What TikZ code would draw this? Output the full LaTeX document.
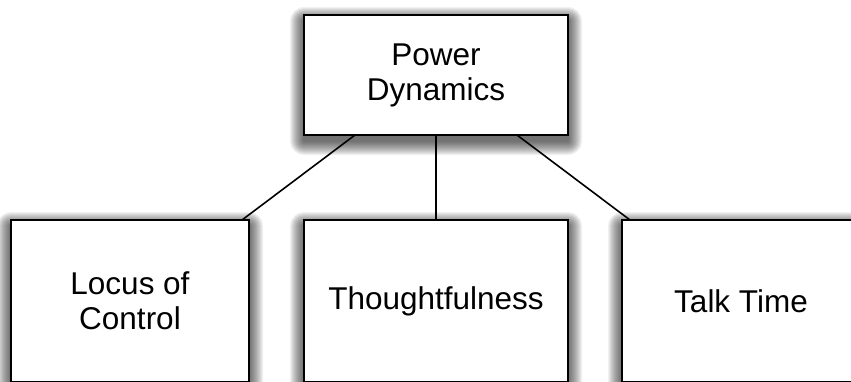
\documentclass[tikz,border=0pt]{standalone}
\usepackage{fontspec}
\setmainfont{Liberation Sans}
\usetikzlibrary{backgrounds}
\begin{document}
\begin{tikzpicture}[x=1pt,y=-1pt,
  box/.style={draw=black, line width=2pt, fill=white, align=center,
    inner sep=0pt, outer sep=0pt,
    font=\fontsize{31.5}{35}\selectfont},
  link/.style={draw=black, line width=1.6pt},
  shade layer/.style={fill=black, fill opacity=0.055}]
  \useasboundingbox (0,0) rectangle (851,381);
  % parent box
  \node[box, minimum width=264pt, minimum height=120pt] (power) at (436,75)
    {Power\\Dynamics};
  % child boxes
  \node[box, minimum width=238pt, minimum height=162pt] (locus) at (130,301)
    {Locus of\\Control};
  \node[box, minimum width=264pt, minimum height=162pt] (thought) at (436,301)
    {Thoughtfulness};
  \node[box, minimum width=238pt, minimum height=162pt] (talk) at (741,301)
    {Talk Time};
  % soft drop shadows, built from stacked translucent rectangles
  \begin{scope}[on background layer]
    \foreach \n in {power,locus,thought,talk}{
      \foreach \r in {1,...,14}{
        \path[shade layer, rounded corners={\r*1pt}]
          ([xshift={-\r*1pt}, yshift={(\r-6)*1pt}]\n.north west) rectangle
          ([xshift={\r*1pt}, yshift={(-\r-6)*1pt}]\n.south east);
      }
    }
  \end{scope}
  % connectors
  \draw[link] ([xshift=51pt]power.south west) -- ([xshift=-7pt]locus.north east);
  \draw[link] (power.south) -- (thought.north);
  \draw[link] ([xshift=-51pt]power.south east) -- ([xshift=8pt]talk.north west);
\end{tikzpicture}
\end{document}
